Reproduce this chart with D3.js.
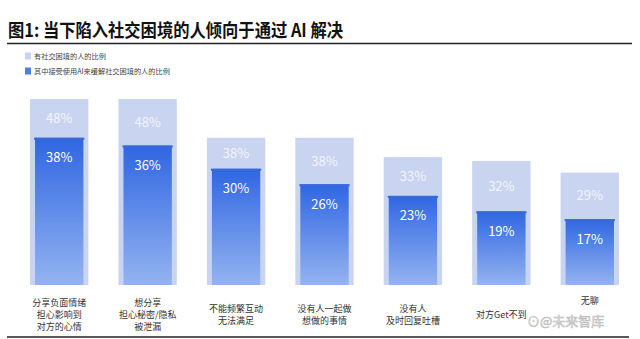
<!DOCTYPE html>
<html>
<head>
<meta charset="utf-8">
<script src="https://cdn.jsdelivr.net/npm/d3@7"></script>
<style>
  body { margin: 0; background: #fff; }
  text { font-family: "Noto Sans CJK SC", "Noto Sans", sans-serif; }
</style>
</head>
<body>
<div id="chart"></div>
<script>
// chart data
const titleText = "图1:  当下陷入社交困境的人倾向于通过 AI 解决";
const legendNames = ["有社交困境的人的比例", "其中接受使用AI来缓解社交困境的人的比例"];
const categories = [
  ["分享负面情绪", "担心影响到", "对方的心情"],
  ["想分享", "担心秘密/隐私", "被泄漏"],
  ["不能频繁互动", "无法满足"],
  ["没有人一起做", "想做的事情"],
  ["没有人", "及时回复吐槽"],
  ["对方Get不到"],
  ["无聊"]
];
const hasTrouble = [48, 48, 38, 38, 33, 32, 29];
const useAI = [38, 36, 30, 26, 23, 19, 17];

const W = 640, H = 339;
const svg = d3.select("#chart").append("svg")
  .attr("width", W).attr("height", H);

const defs = svg.append("defs");
const grad = defs.append("linearGradient")
  .attr("id", "blueGrad").attr("x1", 0).attr("y1", 0).attr("x2", 0).attr("y2", 1);
grad.append("stop").attr("offset", "0%").attr("stop-color", "#2f66e2");
grad.append("stop").attr("offset", "100%").attr("stop-color", "#94b3f0");

// title
svg.append("text")
  .attr("x", 8).attr("y", 37)
  .attr("font-size", 18).attr("font-weight", "bold")
  .attr("fill", "#111")
  .attr("textLength", 335).attr("lengthAdjust", "spacingAndGlyphs")
  .text(titleText);
svg.append("line")
  .attr("x1", 7).attr("x2", 632).attr("y1", 43.5).attr("y2", 43.5)
  .attr("stroke", "#222").attr("stroke-width", 1.6);

// legend
const legColors = ["#c9d4f0", "#4c7fe6"];
legendNames.forEach((n, i) => {
  const ly = 56 + i * 15;
  svg.append("rect").attr("x", 25).attr("y", ly - 3.5).attr("width", 6).attr("height", 7)
    .attr("fill", legColors[i]);
  svg.append("text").attr("x", 34).attr("y", ly + 2.6)
    .attr("font-size", 7.2).attr("fill", "#444").text(n);
});

// scales
const x = d3.scaleBand()
  .domain(d3.range(categories.length))
  .range([15, 634])
  .paddingInner(0.34).paddingOuter(0.17);
const y = d3.scaleLinear().domain([0, 48]).range([285, 99]);

const g = svg.append("g");

// light bars
g.selectAll(".outer").data(hasTrouble).enter().append("rect")
  .attr("x", (d, i) => x(i))
  .attr("y", d => y(d))
  .attr("width", x.bandwidth())
  .attr("height", d => y(0) - y(d))
  .attr("fill", "#c9d4f0");

// blue bars
const inset = 5;
g.selectAll(".inner").data(useAI).enter().append("rect")
  .attr("x", (d, i) => x(i) + inset)
  .attr("y", d => y(d))
  .attr("width", x.bandwidth() - inset * 2)
  .attr("height", d => y(0) - y(d))
  .attr("fill", "url(#blueGrad)");
g.selectAll(".cap").data(useAI).enter().append("rect")
  .attr("x", (d, i) => x(i) + inset - 1)
  .attr("y", d => y(d))
  .attr("width", x.bandwidth() - inset * 2 + 2)
  .attr("height", 2)
  .attr("fill", "#3a6ad8");

// value labels
g.selectAll(".lblOuter").data(hasTrouble).enter().append("text")
  .attr("x", (d, i) => x(i) + x.bandwidth() / 2)
  .attr("y", (d, i) => (y(d) + y(useAI[i])) / 2 + 4.5)
  .attr("text-anchor", "middle")
  .attr("font-size", 13).attr("fill", "#f2f5fc")
  .text(d => d + "%");
g.selectAll(".lblInner").data(useAI).enter().append("text")
  .attr("x", (d, i) => x(i) + x.bandwidth() / 2)
  .attr("y", d => y(d) + 24.5)
  .attr("text-anchor", "middle")
  .attr("font-size", 13).attr("fill", "#fff")
  .text(d => d + "%");

// category labels
categories.forEach((lines, i) => {
  const cx = x(i) + x.bandwidth() / 2;
  let top = 318 - (lines.length - 1) * 6;
  if (i === categories.length - 1) top = 304; // sits above the watermark
  lines.forEach((t, k) => {
    svg.append("text")
      .attr("x", cx).attr("y", top + k * 12)
      .attr("text-anchor", "middle")
      .attr("font-size", 9).attr("fill", "#333")
      .text(t);
  });
});

// watermark
svg.append("text")
  .attr("x", 527).attr("y", 326)
  .attr("font-size", 13)
  .attr("fill", "#e4e4e4").attr("stroke", "#b8b8b8").attr("stroke-width", 0.5)
  .text("⊙@未来智库");

// bottom rule
svg.append("line")
  .attr("x1", 7).attr("x2", 629).attr("y1", 337).attr("y2", 337)
  .attr("stroke", "#222").attr("stroke-width", 1.5);
</script>
</body>
</html>
